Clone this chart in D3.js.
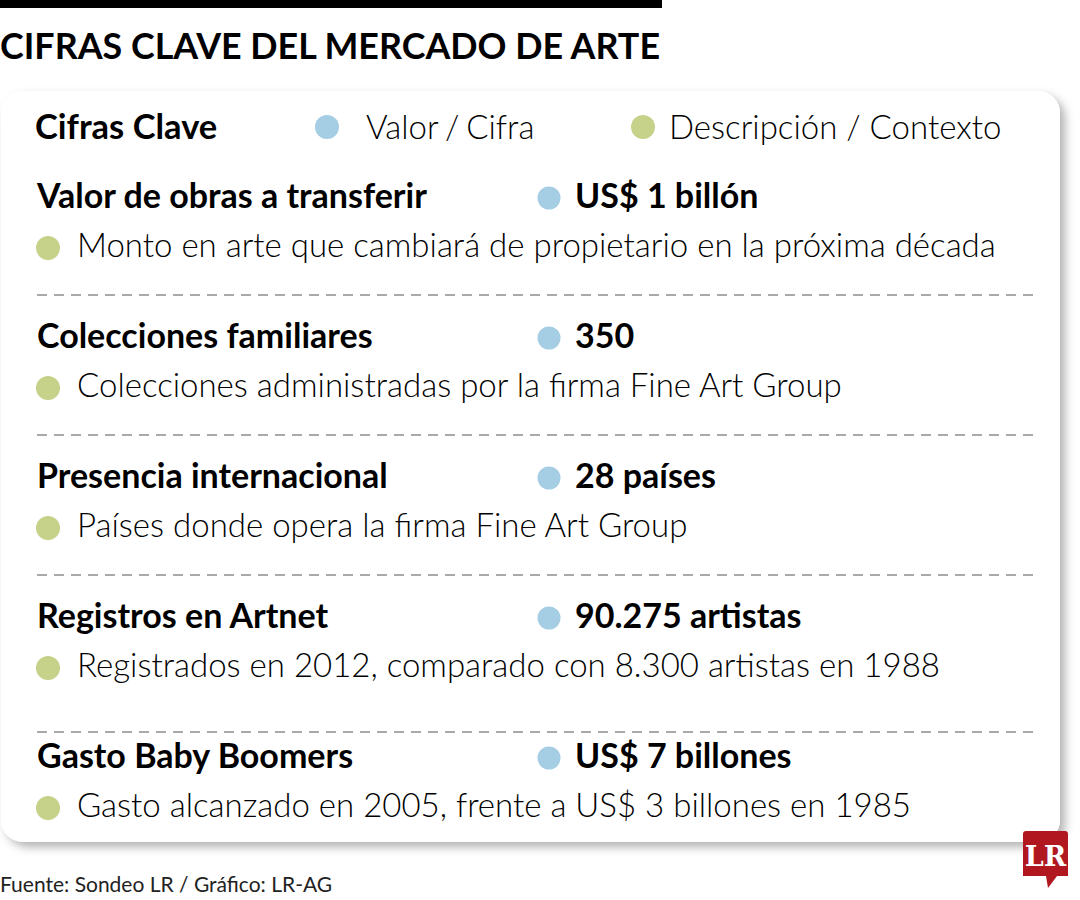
<!DOCTYPE html>
<html>
<head>
<meta charset="utf-8">
<script src="https://cdn.jsdelivr.net/npm/d3@7"></script>
<style>
  body { margin: 0; background: #fff; }
  svg { display: block; }
</style>
</head>
<body>
<div id="grafico"></div>
<script>
// Datos del gráfico
var titulo = "CIFRAS CLAVE DEL MERCADO DE ARTE";
var encabezados = ["Cifras Clave", "Valor / Cifra", "Descripción / Contexto"];
var categorias = [
  "Valor de obras a transferir",
  "Colecciones familiares",
  "Presencia internacional",
  "Registros en Artnet",
  "Gasto Baby Boomers"
];
var valores = ["US$ 1 billón", "350", "28 países", "90.275 artistas", "US$ 7 billones"];
var descripciones = [
  "Monto en arte que cambiará de propietario en la próxima década",
  "Colecciones administradas por la firma Fine Art Group",
  "Países donde opera la firma Fine Art Group",
  "Registrados en 2012, comparado con 8.300 artistas en 1988",
  "Gasto alcanzado en 2005, frente a US$ 3 billones en 1985"
];
var fuente = "Fuente: Sondeo LR / Gráfico: LR-AG";

var colorValor = "#a5cde3";
var colorDesc = "#c6d18a";

var width = 1080, height = 900;

var svg = d3.select("#grafico").append("svg")
    .attr("width", width)
    .attr("height", height);

// sombra de la tarjeta
var defs = svg.append("defs");
var filtro = defs.append("filter").attr("id", "sombra")
    .attr("x", "-5%").attr("y", "-5%").attr("width", "115%").attr("height", "115%");
filtro.append("feDropShadow")
    .attr("dx", 5).attr("dy", 5)
    .attr("stdDeviation", 5)
    .attr("flood-color", "#000")
    .attr("flood-opacity", 0.3);

// barra negra superior
svg.append("rect")
    .attr("x", 0).attr("y", 0)
    .attr("width", 662).attr("height", 8)
    .attr("fill", "#000");

// título
svg.append("text")
    .attr("x", 0).attr("y", 59)
    .attr("textLength", 660)
    .attr("lengthAdjust", "spacingAndGlyphs")
    .style("font-family", "Lato, 'Open Sans', sans-serif")
    .style("font-weight", 700)
    .style("font-size", "37px")
    .style("fill", "#000")
    .text(titulo);

// tarjeta
svg.append("rect")
    .attr("x", 1).attr("y", 91)
    .attr("width", 1059).attr("height", 751)
    .attr("rx", 22)
    .attr("fill", "#fff")
    .attr("filter", "url(#sombra)");

// encabezado
var yEnc = 139;
svg.append("text")
    .attr("x", 35).attr("y", yEnc)
    .style("font-family", "Lato, sans-serif")
    .style("font-weight", 700)
    .style("font-size", "34.5px")
    .text(encabezados[0]);

svg.append("circle").attr("cx", 327).attr("cy", yEnc - 12).attr("r", 12).attr("fill", colorValor);
svg.append("text")
    .attr("x", 366).attr("y", yEnc)
    .style("font-family", "Lato, sans-serif")
    .style("font-weight", 300)
    .style("font-size", "33px")
    .style("word-spacing", "-2px")
    .text(encabezados[1]);

svg.append("circle").attr("cx", 643).attr("cy", yEnc - 12).attr("r", 12).attr("fill", colorDesc);
svg.append("text")
    .attr("x", 669).attr("y", yEnc)
    .style("font-family", "Lato, sans-serif")
    .style("font-weight", 300)
    .style("font-size", "33px")
    .text(encabezados[2]);

// escala de filas
var y = d3.scalePoint()
    .domain(d3.range(categorias.length))
    .range([208, 768]);

var filas = svg.selectAll("g.fila")
    .data(categorias)
    .enter()
    .append("g")
    .attr("class", "fila")
    .attr("transform", function(d, i) { return "translate(0," + y(i) + ")"; });

filas.append("text")
    .attr("x", 37).attr("y", 0)
    .style("font-family", "Lato, sans-serif")
    .style("font-weight", 700)
    .style("font-size", "34px")
    .text(function(d) { return d; });

filas.append("circle")
    .attr("cx", 549).attr("cy", -10).attr("r", 11.5)
    .attr("fill", colorValor);

filas.append("text")
    .attr("x", 575).attr("y", 0)
    .style("font-family", "Lato, sans-serif")
    .style("font-weight", 700)
    .style("font-size", "34px")
    .text(function(d, i) { return valores[i]; });

filas.append("circle")
    .attr("cx", 48).attr("cy", 40).attr("r", 12)
    .attr("fill", colorDesc);

filas.append("text")
    .attr("x", 77).attr("y", 49)
    .style("font-family", "Lato, sans-serif")
    .style("font-weight", 300)
    .style("font-size", "33px")
    .text(function(d, i) { return descripciones[i]; });

// líneas punteadas entre filas
filas.filter(function(d, i) { return i < categorias.length - 1; })
    .append("line")
    .attr("x1", 37).attr("x2", 1035)
    .attr("y1", function(d, i) { return i === categorias.length - 2 ? 104 : 87; })
    .attr("y2", function(d, i) { return i === categorias.length - 2 ? 104 : 87; })
    .attr("stroke", "#555")
    .attr("stroke-width", 1.2)
    .attr("stroke-dasharray", "10,7");

// fuente
svg.append("text")
    .attr("x", 0).attr("y", 892)
    .style("font-family", "Lato, sans-serif")
    .style("font-weight", 400)
    .style("font-size", "21px")
    .style("fill", "#222")
    .text(fuente);

// logo LR
var logo = svg.append("g").attr("transform", "translate(1023,831)");
logo.append("path")
    .attr("d", "M3,0 H42 Q45,0 45,3 V45 H34 L25,57 L23,45 H0 V3 Q0,0 3,0 Z")
    .attr("fill", "#b0171f");
logo.append("text")
    .attr("x", 22.5).attr("y", 35)
    .attr("text-anchor", "middle")
    .style("font-family", "'DejaVu Serif', 'Liberation Serif', serif")
    .style("font-weight", 700)
    .style("font-size", "27px")
    .style("fill", "#fff")
    .text("LR");
</script>
</body>
</html>
